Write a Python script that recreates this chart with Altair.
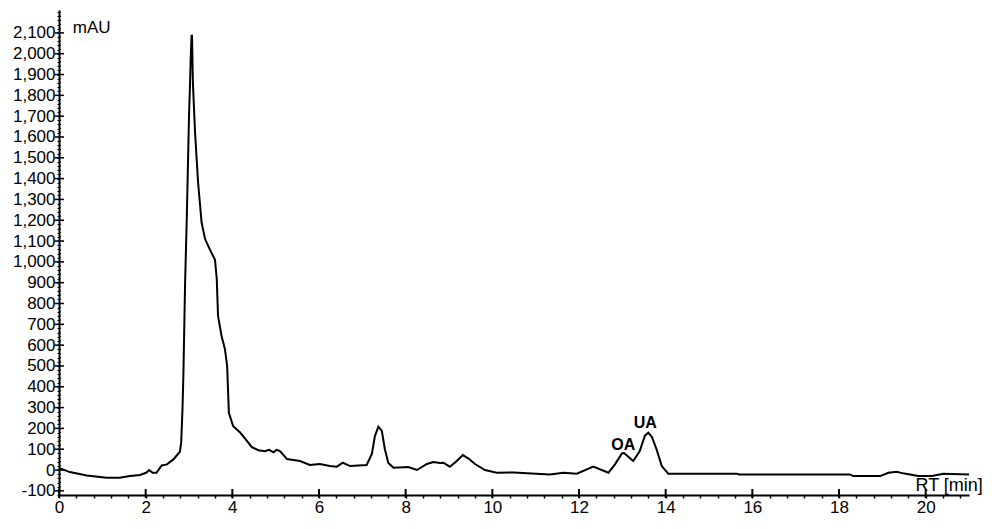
import altair as alt
import pandas as pd

# Chromatogram trace (retention time in min, signal in mAU)
rt = [0.00, 0.25, 0.64, 1.10, 1.40, 1.64, 1.87, 2.02, 2.08, 2.16, 2.25, 2.37, 2.49, 2.64,
      2.79, 2.82, 2.85, 2.87, 2.91, 2.95, 3.00, 3.02, 3.04, 3.06, 3.07, 3.09, 3.14, 3.21,
      3.29, 3.37, 3.48, 3.60, 3.64, 3.67, 3.75, 3.83, 3.88, 3.92, 4.02, 4.18, 4.30, 4.45,
      4.60, 4.75, 4.85, 4.95, 5.02, 5.10, 5.26, 5.41, 5.56, 5.79, 6.02, 6.25, 6.41, 6.55,
      6.72, 7.10, 7.22, 7.29, 7.37, 7.45, 7.52, 7.60, 7.72, 8.06, 8.26, 8.49, 8.64, 8.79,
      8.87, 9.02, 9.18, 9.32, 9.45, 9.60, 9.83, 10.10, 10.50, 10.80, 11.33, 11.64, 11.95,
      12.33, 12.68, 12.83, 12.99, 13.04, 13.25, 13.40, 13.52, 13.60, 13.68, 13.79, 13.91,
      14.06, 15.64, 15.70, 18.25, 18.33, 18.95, 19.14, 19.33, 19.48, 19.83, 20.14, 20.41,
      21.00]
mau = [10, -10, -26, -37, -37, -29, -24, -12, 0, -13, -13, 22, 27, 51,
       88, 133, 294, 452, 900, 1220, 1700, 1830, 1980, 2090, 2085, 1860, 1620, 1380,
       1190, 1110, 1060, 1010, 920, 740, 645, 580, 500, 275, 210, 180, 150, 110,
       95, 90, 97, 85, 97, 91, 53, 48, 43, 24, 29, 19, 16, 35,
       19, 24, 77, 163, 208, 188, 100, 34, 11, 14, 0, 29, 38, 34,
       35, 16, 43, 72, 55, 29, 0, -13, -12, -16, -21, -13, -18,
       16, -13, 27, 80, 82, 43, 90, 165, 179, 160, 99, 19,
       -18, -18, -21, -21, -29, -29, -13, -8, -16, -29, -29, -18,
       -21]

peak_names = ["OA", "UA"]
peak_rt = [13.02, 13.53]
peak_mau = [120, 226]

x_major = [0, 2, 4, 6, 8, 10, 12, 14, 16, 18, 20]
x_minor = [round(0.4 * i, 1) for i in range(53)]
y_major = list(range(-100, 2101, 100))
y_minor = list(range(-120, 2201, 20))

W, H = 910, 485
TICK_FONT = "Liberation Sans Narrow, Liberation Sans, Arial, sans-serif"
TEXT_FONT = "Liberation Sans, Arial, sans-serif"

x_scale = alt.Scale(domain=[0, 21], nice=False, zero=False)
y_scale = alt.Scale(domain=[-120, 2210], nice=False, zero=False)

x_axis = alt.Axis(
    values=x_minor, title=None, grid=False,
    labelExpr="abs(datum.value/2 - round(datum.value/2)) < 0.01 ? '' + round(datum.value) : ''",
    tickSize=3, tickColor="black", tickWidth=1.5,
    domainColor="black", domainWidth=2,
    labelFont=TICK_FONT, labelFontSize=17, labelColor="black",
    labelPadding=1, labelOverlap=False, labelFlush=False)
y_axis = alt.Axis(
    values=y_minor, title=None, grid=False,
    labelExpr="(datum.value % 100 === 0 && datum.value <= 2100) ? replace(format(datum.value, ','), '\u2212', '-') : ''",
    tickSize=2, tickColor="black", tickWidth=1,
    domainColor="black", domainWidth=2,
    labelFont=TICK_FONT, labelFontSize=17, labelColor="black",
    labelPadding=2, labelOverlap=False, labelFlush=False)


def X(field):
    return alt.X(field, scale=x_scale, axis=x_axis, title=None)


def Y(field):
    return alt.Y(field, scale=y_scale, axis=y_axis, title=None)


df = pd.DataFrame({"rt": rt, "mau": mau})

line = alt.Chart(df).mark_line(color="black", strokeWidth=2).encode(
    x=X("rt:Q"), y=Y("mau:Q"),
)

xmaj = alt.Chart(pd.DataFrame({"rt": x_major})).mark_rule(color="black", strokeWidth=2).encode(
    x=X("rt:Q"), y=alt.value(H - 6), y2=alt.value(H + 3),
)

ymaj = alt.Chart(pd.DataFrame({"mau": y_major})).mark_rule(color="black", strokeWidth=1.5).encode(
    y=Y("mau:Q"), x=alt.value(-4), x2=alt.value(5),
)

yinner = alt.Chart(pd.DataFrame({"mau": y_minor})).mark_rule(color="black", strokeWidth=1).encode(
    y=Y("mau:Q"), x=alt.value(0), x2=alt.value(2),
)

peaks = alt.Chart(pd.DataFrame({"name": peak_names, "rt": peak_rt, "mau": peak_mau})).mark_text(
    font=TEXT_FONT, fontSize=16, fontWeight="bold", color="black", align="center", baseline="middle"
).encode(
    x=X("rt:Q"), y=Y("mau:Q"), text="name:N",
)

unit_y = alt.Chart(pd.DataFrame({"rt": [0.32], "mau": [2123], "t": ["mAU"]})).mark_text(
    font=TEXT_FONT, fontSize=17, color="black", align="left", baseline="middle"
).encode(
    x=X("rt:Q"), y=Y("mau:Q"), text="t:N",
)

unit_x = alt.Chart(pd.DataFrame({"rt": [21.32], "mau": [-101], "t": ["RT [min]"]})).mark_text(
    font=TEXT_FONT, fontSize=18, color="black", align="right", baseline="alphabetic"
).encode(
    x=X("rt:Q"), y=Y("mau:Q"), text="t:N",
)

chart = alt.layer(line, xmaj, ymaj, yinner, peaks, unit_y, unit_x).properties(
    width=W, height=H,
    autosize=alt.AutoSizeParams(type="none"),
    padding={"left": 51, "top": 2, "right": 15, "bottom": 22},
    background="white",
).configure_view(stroke=None)

chart.save("out.html", embed_options={"renderer": "svg", "actions": False})
